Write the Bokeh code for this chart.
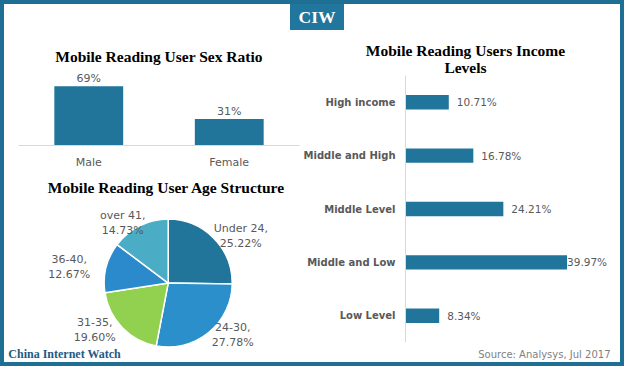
import math
from bokeh.plotting import figure
from bokeh.models import ColumnDataSource, Range1d, FactorRange, Label, Div
from bokeh.layouts import column, row
from bokeh.embed import file_html
from bokeh.resources import INLINE
from bokeh.core.properties import value

# ---------------- data ----------------
sex_categories = ["Male", "Female"]
sex_values = [69, 31]

age_groups = ["Under 24", "24-30", "31-35", "36-40", "over 41"]
age_shares = [25.22, 27.78, 19.60, 12.67, 14.73]

income_levels = ["High income", "Middle and High", "Middle Level", "Middle and Low", "Low Level"]
income_shares = [10.71, 16.78, 24.21, 39.97, 8.34]

# ---------------- styles ----------------
BLUE = "#21759b"
BORDER = "#1f6f95"
GREY = "#595959"
AXIS = "#d9d9d9"
SERIF = "Liberation Serif"
SANS = "DejaVu Sans"
AGE_COLORS = ["#21759b", "#2b8fcc", "#92d050", "#2a8acb", "#4bacc6"]


def base(**kw):
    p = figure(output_backend="svg", toolbar_location=None, outline_line_color=None,
               background_fill_color="white", border_fill_color="white",
               frame_align=False, **kw)
    p.xgrid.visible = False
    p.ygrid.visible = False
    return p


def text_panel(w, h):
    return base(width=w, height=h, x_range=Range1d(0, w), y_range=Range1d(0, h),
                x_axis_location=None, y_axis_location=None, min_border=0)


# ---------------- sex ratio ----------------
sex = base(width=296, height=142,
           x_range=FactorRange(*sex_categories), y_range=Range1d(0, 85),
           y_axis_location=None,
           min_border_left=14, min_border_right=1, min_border_top=42, min_border_bottom=27,
           title="Mobile Reading User Sex Ratio")
sex.title.align = "center"
sex.title.text_font = SERIF
sex.title.text_font_size = "15.5px"
sex.title.text_font_style = "bold"
sex.title.text_color = "#000000"
sex.title.standoff = 15

sex_src = ColumnDataSource(dict(cat=sex_categories, val=sex_values,
                                txt=[f"{v}%" for v in sex_values]))
sex.vbar(x="cat", top="val", width=0.49, source=sex_src, fill_color=BLUE, line_color=None)
sex.text(x="cat", y="val", text="txt", source=sex_src, text_align="center",
         text_baseline="bottom", y_offset=-1, text_font=value(SANS),
         text_font_size="11px", text_color=GREY)
ax = sex.xaxis[0]
ax.axis_line_color = AXIS
ax.major_tick_line_color = None
ax.minor_tick_line_color = None
ax.major_tick_out = 0
ax.major_label_standoff = 10
ax.major_label_text_font = SANS
ax.major_label_text_font_size = "11px"
ax.major_label_text_color = GREY

# ---------------- age structure pie ----------------
PW, PH = 296, 190
CX, CY = 163.7, 110.6
pie = base(width=PW, height=PH,
           x_range=Range1d(-CX, PW - CX), y_range=Range1d(-(PH - CY), CY),
           x_axis_location=None, y_axis_location=None, min_border=0)

total = sum(age_shares)
starts, ends, lx, ly, labels = [], [], [], [], []
cum = 0.0
RX, RY = 102.0, 67.0
for g, s in zip(age_groups, age_shares):
    f = s / total
    starts.append(math.pi / 2 - 2 * math.pi * cum)
    mid = 2 * math.pi * (cum + f / 2)
    cum += f
    ends.append(math.pi / 2 - 2 * math.pi * cum)
    lx.append(RX * math.sin(mid))
    ly.append(RY * math.cos(mid))
    labels.append(f"{g},\n{s:.2f}%")

pie_src = ColumnDataSource(dict(start=starts, end=ends, color=AGE_COLORS,
                                lx=lx, ly=ly, txt=labels))
pie.wedge(x=0, y=0, radius=64, start_angle="start", end_angle="end", direction="clock",
          fill_color="color", line_color="white", line_width=1.5, source=pie_src)
pie.text(x="lx", y="ly", text="txt", source=pie_src, text_align="center",
         text_baseline="middle", text_font=value(SANS), text_font_size="11px",
         text_color=GREY, text_line_height=1.15)

pie.add_layout(Label(x=162, y=175.2, x_units="screen", y_units="screen",
                     text="Mobile Reading User Age Structure", text_align="center",
                     text_baseline="middle", text_font=SERIF, text_font_size="15.5px",
                     text_font_style="bold", text_color="#000000"))
pie.add_layout(Label(x=3.8, y=8.5, x_units="screen", y_units="screen",
                     text="China Internet Watch", text_align="left",
                     text_baseline="middle", text_font=SERIF, text_font_size="12px",
                     text_font_style="bold", text_color="#1f5a85"))

# ---------------- income levels ----------------
inc_head = text_panel(320, 45)
inc_head.add_layout(Label(x=165, y=16.5, x_units="screen", y_units="screen",
                          text="Mobile Reading Users Income\nLevels", text_align="center",
                          text_baseline="middle", text_font=SERIF, text_font_size="15.5px",
                          text_font_style="bold", text_color="#000000",
                          text_line_height=1.0))

inc = base(width=320, height=267,
           y_range=FactorRange(*reversed(income_levels)), x_range=Range1d(0, 53.2),
           x_axis_location=None,
           min_border_left=105, min_border_top=0, min_border_bottom=0, min_border_right=0)
top_share = max(income_shares)
inc_src = ColumnDataSource(dict(lvl=income_levels, val=income_shares,
                                txt=[f"{v:.2f}%" for v in income_shares],
                                off=[0 if v == top_share else 8 for v in income_shares]))
inc.hbar(y="lvl", right="val", height=0.27, source=inc_src, fill_color=BLUE, line_color=None)
inc.text(x="val", y="lvl", text="txt", x_offset="off", source=inc_src, text_align="left",
         text_baseline="middle", text_font=value(SANS), text_font_size="10.5px",
         text_color=GREY)
ay = inc.yaxis[0]
ay.axis_line_color = AXIS
ay.major_tick_line_color = None
ay.minor_tick_line_color = None
ay.major_tick_out = 0
ay.major_label_standoff = 10
ay.major_label_text_font = SANS
ay.major_label_text_font_size = "10px"
ay.major_label_text_font_style = "bold"
ay.major_label_text_color = GREY

inc_foot = text_panel(320, 20)
inc_foot.add_layout(Label(x=310, y=8.5, x_units="screen", y_units="screen",
                          text="Source: Analysys, Jul 2017", text_align="right",
                          text_baseline="middle", text_font=SANS, text_font_size="10px",
                          text_color="#7f7f7f"))

# ---------------- header & layout ----------------
header = Div(text=('<div style="margin-left:286px;width:54px;height:26px;'
                   'background:#21769d;color:#ffffff;font-family:\'Liberation Serif\';'
                   'font-weight:bold;font-size:17.5px;line-height:26px;'
                   'text-align:center;">CIW</div>'),
             width=616, height=26, margin=0)

body = row(column(sex, pie, spacing=0), column(inc_head, inc, inc_foot, spacing=0), spacing=0)
page = column(header, body, spacing=0,
              styles={"border": f"4px solid {BORDER}", "background-color": "white"})

open("out.html", "w").write(file_html(page, INLINE))
